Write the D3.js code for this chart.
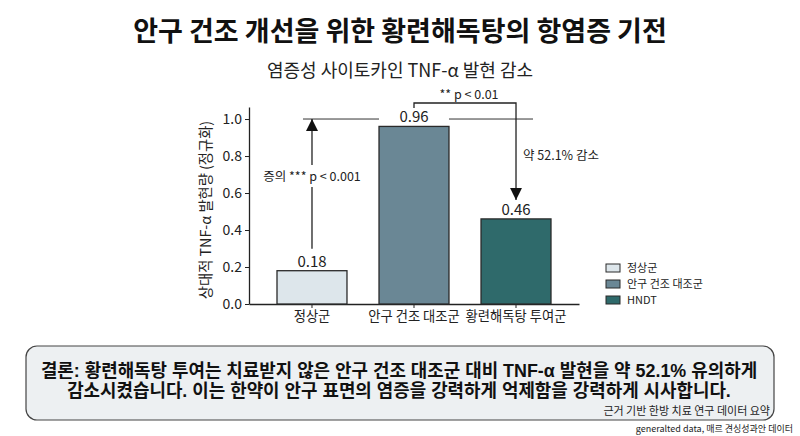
<!DOCTYPE html>
<html>
<head>
<meta charset="utf-8">
<script src="https://cdn.jsdelivr.net/npm/d3@7"></script>
<style>
  body { margin: 0; background: #fff; }
  svg { font-family: "Noto Sans CJK KR", "Noto Sans", sans-serif; }
</style>
</head>
<body>
<svg width="800" height="436"></svg>
<script>
const categories = ["정상군", "안구 건조 대조군", "황련해독탕 투여군"];
const values = [0.18, 0.96, 0.46];
const legendLabels = ["정상군", "안구 건조 대조군", "HNDT"];
const barColors = ["#dde6eb", "#6a8795", "#2f6a6b"];
const yTicks = [0, 0.2, 0.4, 0.6, 0.8, 1.0];
const refValue = 1.0;
const sigUp = "증의 *** p < 0.001";
const sigBracket = "** p < 0.01";
const dropLabel = "약 52.1% 감소";

const svg = d3.select("svg");

// titles
svg.append("text")
  .attr("x", 400).attr("y", 41)
  .attr("text-anchor", "middle")
  .style("font-size", "27px").style("font-weight", 700).style("fill", "#111")
  .text("안구 건조 개선을 위한 황련해독탕의 항염증 기전");
svg.append("text")
  .attr("x", 400).attr("y", 77)
  .attr("text-anchor", "middle")
  .style("font-size", "18px").style("fill", "#222")
  .text("염증성 사이토카인 TNF-α 발현 감소");

//Scales
const x = d3.scaleBand()
  .domain(categories)
  .range([249, 579])
  .paddingInner(0.314)
  .paddingOuter(0.2745);
const y = d3.scaleLinear().domain([0, 1.065]).range([304, 107]);

const cx = (i) => x(categories[i]) + x.bandwidth() / 2;

//Y axis
const yAxis = svg.append("g")
  .attr("transform", "translate(249,0)")
  .call(d3.axisLeft(y).tickValues(yTicks).tickFormat(d3.format(".1f")).tickSize(4).tickSizeOuter(0));
yAxis.select(".domain").attr("stroke", "#222").attr("stroke-width", 1.3);
yAxis.selectAll(".tick line").attr("stroke", "#222");
yAxis.selectAll("text")
  .style("font-family", "\"Noto Sans CJK KR\", sans-serif")
  .style("font-size", "14px").style("fill", "#222");

svg.append("text")
  .attr("transform", "translate(211,210) rotate(-90)")
  .attr("text-anchor", "middle")
  .style("font-size", "14.3px").style("fill", "#222")
  .text("상대적 TNF-α 발현량 (정규화)");

//X axis
const xAxis = svg.append("g")
  .attr("transform", `translate(0,${y(0)})`)
  .call(d3.axisBottom(x).tickSize(4).tickSizeOuter(0).tickPadding(4));
xAxis.select(".domain").attr("stroke", "#222").attr("stroke-width", 1.3);
xAxis.selectAll(".tick line").attr("stroke", "#222");
xAxis.selectAll("text")
  .style("font-family", "\"Noto Sans CJK KR\", sans-serif")
  .style("font-size", "13.3px").style("fill", "#222");

//Reference line at 1.0 (broken where the control bar label sits)
const refY = y(refValue);
svg.append("line")
  .attr("x1", cx(0) - 9).attr("x2", x(categories[1]))
  .attr("y1", refY).attr("y2", refY)
  .attr("stroke", "#333").attr("stroke-width", 1);
svg.append("line")
  .attr("x1", x(categories[1]) + x.bandwidth()).attr("x2", cx(2) + 17)
  .attr("y1", refY).attr("y2", refY)
  .attr("stroke", "#333").attr("stroke-width", 1);

//Bars
svg.selectAll(".bar")
  .data(values)
  .join("rect")
  .attr("class", "bar")
  .attr("x", (d, i) => x(categories[i]))
  .attr("y", (d) => y(d))
  .attr("width", x.bandwidth())
  .attr("height", (d) => y(0) - y(d))
  .attr("fill", (d, i) => barColors[i])
  .attr("stroke", "#2a2a2a")
  .attr("stroke-width", 1.3);

svg.selectAll(".bar-label")
  .data(values)
  .join("text")
  .attr("class", "bar-label")
  .attr("x", (d, i) => cx(i))
  .attr("y", (d) => y(d) - 4)
  .attr("text-anchor", "middle")
  .style("font-size", "15px").style("fill", "#222")
  .text((d) => d.toFixed(2));

//Arrowheads
const defs = svg.append("defs");
defs.append("marker")
  .attr("id", "arrow")
  .attr("viewBox", "0 0 10 10")
  .attr("refX", 10).attr("refY", 5)
  .attr("markerWidth", 12).attr("markerHeight", 12)
  .attr("markerUnits", "userSpaceOnUse")
  .attr("orient", "auto")
  .append("path")
  .attr("d", "M0,0L10,5L0,10Z")
  .attr("fill", "#111");

//Up arrow: normal -> 1.0
const upTop = refY;
const upBottom = y(values[0]) - 22;
const upTextY = 177;
svg.append("line")
  .attr("x1", cx(0)).attr("x2", cx(0))
  .attr("y1", upBottom).attr("y2", upTextY + 10)
  .attr("stroke", "#222").attr("stroke-width", 1.3);
svg.append("line")
  .attr("x1", cx(0)).attr("x2", cx(0))
  .attr("y1", upTextY - 12).attr("y2", upTop)
  .attr("stroke", "#222").attr("stroke-width", 1.3)
  .attr("marker-end", "url(#arrow)");
svg.append("text")
  .attr("x", cx(0)).attr("y", upTextY + 4)
  .attr("text-anchor", "middle")
  .style("font-size", "12.5px").style("fill", "#222")
  .text(sigUp);

//Bracket: control -> HNDT
const brY = 103;
svg.append("path")
  .attr("d", `M${cx(1)},${brY + 5}V${brY}H${cx(2)}V${y(values[2]) - 19}`)
  .attr("fill", "none")
  .attr("stroke", "#222").attr("stroke-width", 1.3)
  .attr("marker-end", "url(#arrow)");
svg.append("text")
  .attr("x", (cx(1) + cx(2)) / 2 + 4).attr("y", brY - 4)
  .attr("text-anchor", "middle")
  .style("font-size", "12.5px").style("fill", "#222")
  .text(sigBracket);
svg.append("text")
  .attr("x", cx(2) + 7).attr("y", 160)
  .style("font-size", "12.5px").style("fill", "#222")
  .text(dropLabel);

//Legend
const legend = svg.append("g").attr("transform", "translate(606,268)");
const items = legend.selectAll("g")
  .data(legendLabels)
  .join("g")
  .attr("transform", (d, i) => `translate(0,${i * 16})`);
items.append("rect")
  .attr("x", 0).attr("y", -4)
  .attr("width", 14).attr("height", 8)
  .attr("fill", (d, i) => barColors[i])
  .attr("stroke", "#2a2a2a").attr("stroke-width", 1);
items.append("text")
  .attr("x", 21).attr("y", 4)
  .style("font-size", "11px").style("fill", "#222")
  .text((d) => d);

//Conclusion box
svg.append("rect")
  .attr("x", 26).attr("y", 346)
  .attr("width", 748).attr("height", 74)
  .attr("rx", 11)
  .attr("fill", "#edf0f2")
  .attr("stroke", "#444").attr("stroke-width", 1.2);
const lines = [
  "결론: 황련해독탕 투여는 치료받지 않은 안구 건조 대조군 대비 TNF-α 발현을 약 52.1% 유의하게",
  "감소시켰습니다. 이는 한약이 안구 표면의 염증을 강력하게 억제함을 강력하게 시사합니다.",
];
svg.selectAll(".concl")
  .data(lines)
  .join("text")
  .attr("class", "concl")
  .attr("x", 399)
  .attr("y", (d, i) => 377 + i * 20)
  .attr("text-anchor", "middle")
  .style("font-family", "\"Liberation Sans\", \"Noto Sans CJK KR\", sans-serif")
  .style("font-size", "17.9px").style("font-weight", 700).style("fill", "#111")
  .text((d) => d);
svg.append("text")
  .attr("x", 770).attr("y", 415)
  .attr("text-anchor", "end")
  .style("font-size", "11px").style("fill", "#222")
  .text("근거 기반 한방 치료 연구 데이터 요약");
svg.append("text")
  .attr("x", 793).attr("y", 432)
  .attr("text-anchor", "end")
  .style("font-size", "9px").style("fill", "#222")
  .text("generalted data, 매르 견싱성과안 데이터");
</script>
</body>
</html>
